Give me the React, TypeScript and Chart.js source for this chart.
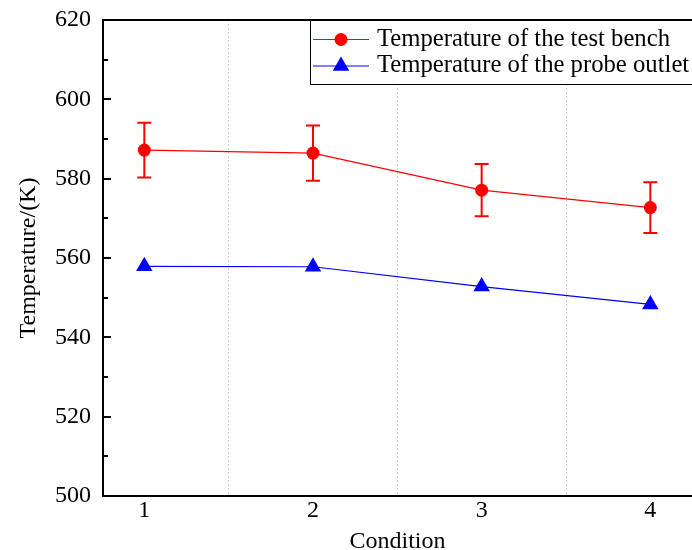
import React, { useEffect, useRef } from 'react';
import { Chart, registerables } from 'chart.js';

Chart.register(...registerables);

const conditions = [1, 2, 3, 4];
const benchTemp = [587.2, 586.45, 577.1, 572.7];
const benchErr = [6.9, 6.95, 6.6, 6.4];
const probeTemp = [557.9, 557.8, 552.8, 548.3];
const xTickValues = [1, 1.5, 2, 2.5, 3, 3.5, 4];
const yTickValues = [500, 510, 520, 530, 540, 550, 560, 570, 580, 590, 600, 610, 620];
const seriesNames = ['Temperature of the test bench', 'Temperature of the probe outlet'];

const FONT = '"Liberation Serif", "Times New Roman", serif';

const decorPlugin = {
  id: 'decor',
  beforeDatasetsDraw(chart: any) {
    const { ctx, scales } = chart;
    const x = scales.x;
    const y = scales.y;
    ctx.save();
    ctx.strokeStyle = '#ff0000';
    ctx.lineWidth = 2;
    conditions.forEach((c, i) => {
      const px = x.getPixelForValue(c);
      const top = y.getPixelForValue(benchTemp[i] + benchErr[i]);
      const bot = y.getPixelForValue(benchTemp[i] - benchErr[i]);
      ctx.beginPath();
      ctx.moveTo(px, top);
      ctx.lineTo(px, bot);
      ctx.moveTo(px - 7, top);
      ctx.lineTo(px + 7, top);
      ctx.moveTo(px - 7, bot);
      ctx.lineTo(px + 7, bot);
      ctx.stroke();
    });
    ctx.restore();
  },
  afterDraw(chart: any) {
    const { ctx, chartArea: a, scales } = chart;
    const y = scales.y;
    ctx.save();
    ctx.strokeStyle = '#000';
    ctx.lineWidth = 2;
    ctx.beginPath();
    ctx.moveTo(a.left - 1, a.top);
    ctx.lineTo(a.right, a.top);
    yTickValues.forEach((v) => {
      const py = Math.round(y.getPixelForValue(v));
      const len = v % 20 === 0 ? 8 : 5;
      ctx.moveTo(a.left, py);
      ctx.lineTo(a.left + len, py);
    });
    ctx.stroke();

    // legend
    const bx = 310;
    const by = a.top;
    const bw = 400;
    const bh = 64;
    ctx.fillStyle = '#fff';
    ctx.fillRect(bx, by, bw, bh);
    ctx.lineWidth = 1;
    ctx.strokeStyle = '#000';
    ctx.strokeRect(bx + 0.5, by + 0.5, bw, bh);
    ctx.lineWidth = 2;
    ctx.beginPath();
    ctx.moveTo(bx, a.top);
    ctx.lineTo(a.right, a.top);
    ctx.stroke();
    const rows = [by + 19.5, by + 46];
    chart.data.datasets.forEach((ds: any, i: number) => {
      const ry = rows[i];
      ctx.strokeStyle = ds.borderColor;
      ctx.lineWidth = 1.2;
      ctx.beginPath();
      ctx.moveTo(313, ry);
      ctx.lineTo(369, ry);
      ctx.stroke();
      ctx.fillStyle = ds.pointBackgroundColor;
      ctx.beginPath();
      if (ds.pointStyle === 'triangle') {
        const r = ds.pointRadius;
        ctx.moveTo(341, ry - r);
        ctx.lineTo(341 + r * Math.sin((2 * Math.PI) / 3), ry - r * Math.cos((2 * Math.PI) / 3));
        ctx.lineTo(341 - r * Math.sin((2 * Math.PI) / 3), ry - r * Math.cos((2 * Math.PI) / 3));
        ctx.closePath();
      } else {
        ctx.arc(341, ry, ds.pointRadius, 0, Math.PI * 2);
      }
      ctx.fill();
      ctx.fillStyle = '#000';
      ctx.font = `24.7px ${FONT}`;
      ctx.textBaseline = 'middle';
      ctx.textAlign = 'left';
      ctx.fillText(ds.label, 377, ry);
    });
    ctx.restore();
  },
};

const zeroPad = (s: any) => {
  s.paddingTop = 0;
  s.paddingBottom = 0;
  s.paddingLeft = 0;
  s.paddingRight = 0;
};

export default function App() {
  const ref = useRef<HTMLCanvasElement>(null);
  useEffect(() => {
    if (!ref.current) return;
    const chart = new Chart(ref.current, {
      type: 'line',
      data: {
        datasets: [
          {
            label: seriesNames[0],
            data: conditions.map((c, i) => ({ x: c, y: benchTemp[i] })),
            borderColor: '#ff0000',
            backgroundColor: '#ff0000',
            pointBackgroundColor: '#ff0000',
            pointBorderColor: '#ff0000',
            borderWidth: 1.2,
            pointRadius: 6.5,
            pointBorderWidth: 0,
            pointStyle: 'circle',
          },
          {
            label: seriesNames[1],
            data: conditions.map((c, i) => ({ x: c, y: probeTemp[i] })),
            borderColor: '#0000ff',
            backgroundColor: '#0000ff',
            pointBackgroundColor: '#0000ff',
            pointBorderColor: '#0000ff',
            borderWidth: 1.2,
            pointRadius: 9.5,
            pointBorderWidth: 0,
            pointStyle: 'triangle',
          },
        ],
      },
      options: {
        responsive: false,
        animation: false,
        events: [],
        layout: { autoPadding: false, padding: { top: 20, right: 0, left: 0, bottom: 0 } },
        plugins: { legend: { display: false }, tooltip: { enabled: false } },
        scales: {
          x: {
            type: 'linear',
            min: 0.755,
            max: 4.247,
            afterBuildTicks: (s: any) => {
              s.ticks = xTickValues.map((v) => ({ value: v }));
            },
            afterFit: (s: any) => {
              s.height = 54;
              zeroPad(s);
            },
            ticks: {
              padding: 0,
              color: '#000',
              font: { family: FONT, size: 24 },
              callback: (v: any) => (Number.isInteger(v) ? String(v) : ''),
              maxRotation: 0,
              autoSkip: false,
            },
            grid: {
              drawTicks: false,
              color: (c: any) => (c.tick && !Number.isInteger(c.tick.value) ? '#cfcfcf' : 'rgba(0,0,0,0)'),
              lineWidth: 1,
            },
            border: { display: true, color: '#000', width: 2, dash: [2, 2] },
            title: {
              display: true,
              text: 'Condition',
              color: '#000',
              font: { family: FONT, size: 24, lineHeight: 1 },
              padding: { top: 0, bottom: -4 },
            },
          },
          y: {
            type: 'linear',
            min: 500,
            max: 620,
            afterBuildTicks: (s: any) => {
              s.ticks = yTickValues.filter((v) => v % 20 === 0).map((v) => ({ value: v }));
            },
            afterFit: (s: any) => {
              s.width = 103;
              zeroPad(s);
            },
            ticks: {
              padding: 12,
              color: '#000',
              font: { family: FONT, size: 24 },
            },
            grid: { display: false, drawTicks: false },
            border: { display: true, color: '#000', width: 2 },
            title: {
              display: true,
              text: 'Temperature/(K)',
              color: '#000',
              font: { family: FONT, size: 24, lineHeight: 1 },
              padding: { top: 17, bottom: 0 },
            },
          },
        },
      },
      plugins: [decorPlugin],
    } as any);
    return () => chart.destroy();
  }, []);
  return (
    <div style={{ position: 'absolute', left: 0, top: 0, width: 692, height: 550, overflow: 'hidden', background: '#fff' }}>
      <canvas ref={ref} width={692} height={550} style={{ display: 'block' }} />
    </div>
  );
}
